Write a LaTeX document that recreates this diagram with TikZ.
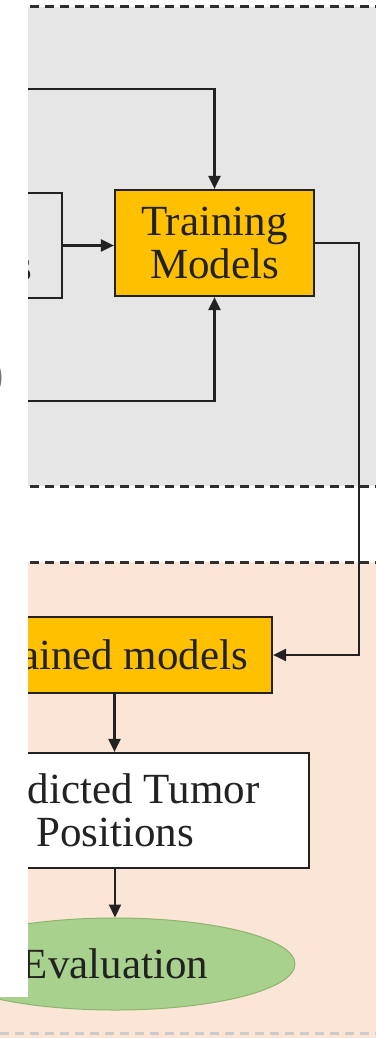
\documentclass[tikz,border=0pt]{standalone}
\usepackage{fontspec}
\setmainfont{Liberation Serif}
\usetikzlibrary{arrows.meta,shapes.geometric}
\definecolor{bggray}{HTML}{E7E6E6}
\definecolor{bgpeach}{HTML}{FBE5D6}
\definecolor{boxorange}{HTML}{FFC000}
\definecolor{evgreen}{HTML}{A9D18E}
\definecolor{evedge}{HTML}{8CB56E}
\definecolor{linecol}{HTML}{222222}
\definecolor{dashcol}{HTML}{2E2E2E}
\begin{document}
\begin{tikzpicture}[x=1pt,y=-1pt,
  every node/.style={font=\fontsize{43}{43}\selectfont, text=linecol, inner sep=0pt},
  flowbox/.style={draw=linecol, line width=2.2pt, rectangle, align=center},
  arr/.style={draw=linecol, line width=2.2pt, -{Triangle[length=13pt,width=12pt]}},
  zoneline/.style={draw=dashcol, line width=3pt, dash pattern=on 9pt off 6pt}
]
\useasboundingbox (0,0) rectangle (375,1038);
\fill[white] (0,0) rectangle (375,1038);
% zones
\fill[bggray] (-60,7) rectangle (400,486);
\draw[zoneline] (-60,7) -- (400,7);
\draw[zoneline] (-60,486) -- (400,486);
\fill[bgpeach] (-60,562) rectangle (400,1040);
\draw[zoneline] (-60,562) -- (400,562);
\draw[zoneline, draw=dashcol!25] (-60,1033) -- (400,1033);
% nodes
\node[flowbox, fill=boxorange, minimum width=199pt, minimum height=106pt] (tm) at (214.5,243) {Training\\Models};
\node[flowbox, minimum width=212pt, minimum height=105pt] (lb) at (-44,245.5) {};
\node[anchor=base east] (lbtext) at (32.5,280) {s};
\node[flowbox, fill=boxorange, minimum width=315pt, minimum height=76pt] (trm) at (114.5,655) {Trained models};
\node[flowbox, fill=white, minimum width=388pt, minimum height=115pt] (ptp) at (115,810.5) {Predicted Tumor\\Positions};
\node[ellipse, draw=evedge, line width=1pt, fill=evgreen, minimum width=360pt, minimum height=92pt] (ev) at (115,964) {Evaluation};
% connectors
\coordinate (inTop) at (-60,89);
\coordinate (inBot) at (-60,401);
\draw[arr] (inTop) -| (tm.north);
\draw[arr] (inBot) -| (tm.south);
\draw[arr] (lb.east) -- (lb.east -| tm.west);
\draw[arr] (tm.east) -- ++(44,0) |- (trm.east);
\draw[arr] (trm.south) -- (trm.south |- ptp.north);
\draw[arr] (ptp.south) -- (ev.north);
% white strip on the left
\fill[white] (-10,-10) rectangle (28,997);
\node[anchor=base east, text=black!55] (frag) at (4,388) {)};
\end{tikzpicture}
\end{document}
